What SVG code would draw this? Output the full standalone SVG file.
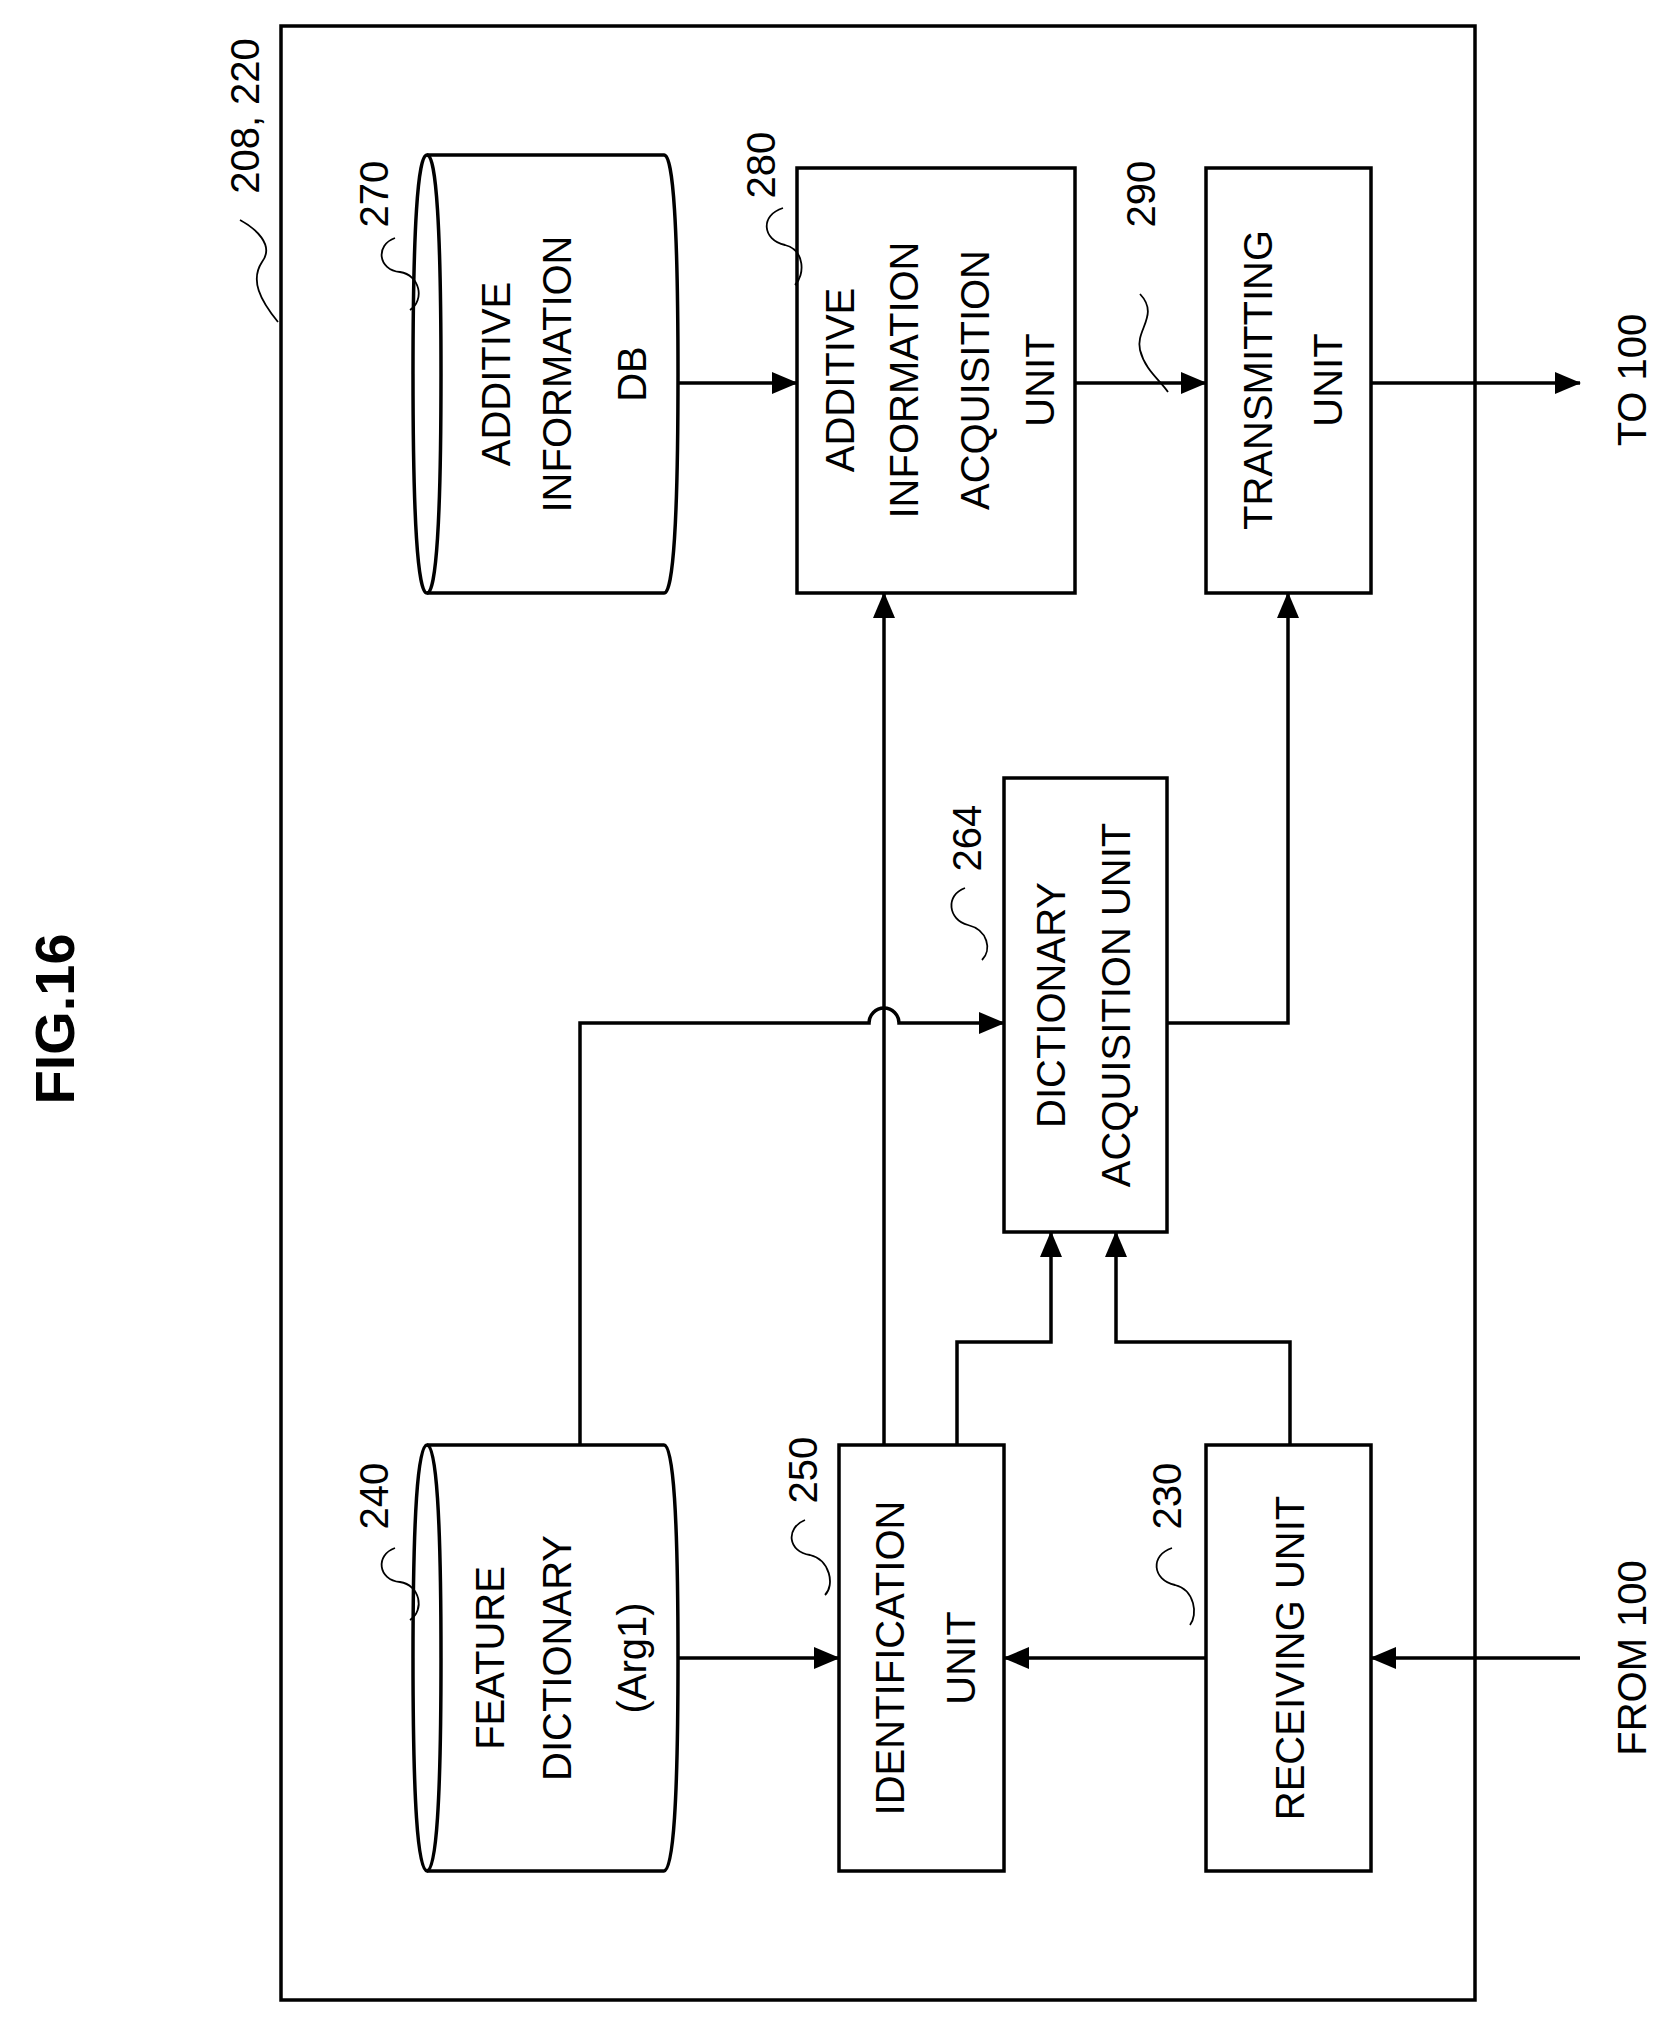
<svg xmlns="http://www.w3.org/2000/svg" width="1678" height="2026" viewBox="0 0 1678 2026">
<defs>
<marker id="a" markerWidth="26" markerHeight="22" refX="25" refY="11" orient="auto" markerUnits="userSpaceOnUse"><path d="M0,0 L26,11 L0,22 Z" fill="#000"/></marker>
<style>
.b{fill:#fff;stroke:#000;stroke-width:3.5}
.l{fill:none;stroke:#000;stroke-width:3.5}
.s{fill:none;stroke:#000;stroke-width:1.8}
.t{font-family:"Liberation Sans",Arial,sans-serif;font-size:40px;text-anchor:middle;dominant-baseline:central}
.n{font-family:"Liberation Sans",Arial,sans-serif;font-size:40px;text-anchor:middle;dominant-baseline:central}
</style>
</defs>
<rect width="1678" height="2026" fill="#fff"/>
<text class="t" style="font-size:56px;font-weight:bold" transform="translate(54 1019) rotate(-90)">FIG.16</text>
<g id="outer">
<rect class="b" x="281" y="26" width="1194" height="1974" fill="none"/>
<text class="n" transform="translate(245 116) rotate(-90)">208, 220</text>
<path class="s" d="M278,322 C260,300 250,280 262,262 C275,245 255,228 240,220"/>
</g>
<g id="n270">
<path class="b" d="M427,155 L664,155 Q678,155 678,374 Q678,593 664,593 L427,593 Q413,593 413,374 Q413,155 427,155 Z"/>
<path class="l" d="M427,155 Q441,155 441,374 Q441,593 427,593"/>
<text class="t" transform="translate(496 374) rotate(-90)">ADDITIVE</text>
<text class="t" transform="translate(557 374) rotate(-90)">INFORMATION</text>
<text class="t" transform="translate(632 374) rotate(-90)">DB</text>
<text class="n" transform="translate(374 194) rotate(-90)">270</text>
<path class="s" d="M395,238 C375,245 378,270 400,272 C420,275 425,300 410,310"/>
</g>
<g id="n280">
<rect class="b" x="797" y="168" width="278" height="425"/>
<text class="t" transform="translate(840 380) rotate(-90)">ADDITIVE</text>
<text class="t" transform="translate(904 380) rotate(-90)">INFORMATION</text>
<text class="t" transform="translate(975 380) rotate(-90)">ACQUISITION</text>
<text class="t" transform="translate(1040 380) rotate(-90)">UNIT</text>
<text class="n" transform="translate(761 165) rotate(-90)">280</text>
<path class="s" d="M783,208 C760,215 762,240 785,245 C805,250 805,275 795,285"/>
</g>
<g id="n290">
<rect class="b" x="1206" y="168" width="165" height="425"/>
<text class="t" transform="translate(1258 380) rotate(-90)">TRANSMITTING</text>
<text class="t" transform="translate(1328 380) rotate(-90)">UNIT</text>
<text class="n" transform="translate(1141 194) rotate(-90)">290</text>
<path class="s" d="M1140,294 C1160,315 1135,330 1140,350 C1145,370 1160,380 1168,392"/>
</g>
<g id="n240">
<path class="b" d="M427,1445 L664,1445 Q678,1445 678,1658 Q678,1871 664,1871 L427,1871 Q413,1871 413,1658 Q413,1445 427,1445 Z"/>
<path class="l" d="M427,1445 Q441,1445 441,1658 Q441,1871 427,1871"/>
<text class="t" transform="translate(490 1658) rotate(-90)">FEATURE</text>
<text class="t" transform="translate(557 1658) rotate(-90)">DICTIONARY</text>
<text class="t" transform="translate(632 1658) rotate(-90)">(Arg1)</text>
<text class="n" transform="translate(374 1496) rotate(-90)">240</text>
<path class="s" d="M395,1548 C375,1555 378,1580 400,1582 C420,1585 425,1610 410,1620"/>
</g>
<g id="n250">
<rect class="b" x="839" y="1445" width="165" height="426"/>
<text class="t" transform="translate(890 1658) rotate(-90)">IDENTIFICATION</text>
<text class="t" transform="translate(961 1658) rotate(-90)">UNIT</text>
<text class="n" transform="translate(803 1470) rotate(-90)">250</text>
<path class="s" d="M805,1520 C785,1528 788,1552 810,1555 C830,1560 835,1585 825,1595"/>
</g>
<g id="n230">
<rect class="b" x="1206" y="1445" width="165" height="426"/>
<text class="t" transform="translate(1290 1658) rotate(-90)">RECEIVING UNIT</text>
<text class="n" transform="translate(1167 1496) rotate(-90)">230</text>
<path class="s" d="M1172,1548 C1150,1555 1152,1580 1175,1585 C1195,1590 1198,1615 1190,1625"/>
</g>
<g id="n264">
<rect class="b" x="1004" y="778" width="163" height="454"/>
<text class="t" transform="translate(1051 1005) rotate(-90)">DICTIONARY</text>
<text class="t" transform="translate(1116 1005) rotate(-90)">ACQUISITION UNIT</text>
<text class="n" transform="translate(967 838) rotate(-90)">264</text>
<path class="s" d="M965,888 C945,895 948,920 968,925 C988,930 992,950 982,960"/>
</g>
<g id="connectors">
<path class="l" d="M678,383 L797,383" marker-end="url(#a)"/>
<path class="l" d="M1075,383 L1206,383" marker-end="url(#a)"/>
<path class="l" d="M1371,383 L1580,383" marker-end="url(#a)"/>
<path class="l" d="M678,1658 L839,1658" marker-end="url(#a)"/>
<path class="l" d="M1206,1658 L1004,1658" marker-end="url(#a)"/>
<path class="l" d="M1580,1658 L1371,1658" marker-end="url(#a)"/>
<path class="l" d="M884,1445 L884,593" marker-end="url(#a)"/>
<path class="l" d="M580,1445 L580,1023 L869,1023 A15,15 0 0 1 899,1023 L1004,1023" marker-end="url(#a)"/>
<path class="l" d="M957,1445 L957,1342 L1051,1342 L1051,1232" marker-end="url(#a)"/>
<path class="l" d="M1290,1445 L1290,1342 L1116,1342 L1116,1232" marker-end="url(#a)"/>
<path class="l" d="M1167,1023 L1288,1023 L1288,593" marker-end="url(#a)"/>
<text class="t" transform="translate(1632 380) rotate(-90)">TO 100</text>
<text class="t" transform="translate(1632 1658) rotate(-90)">FROM 100</text>
</g>
</svg>
